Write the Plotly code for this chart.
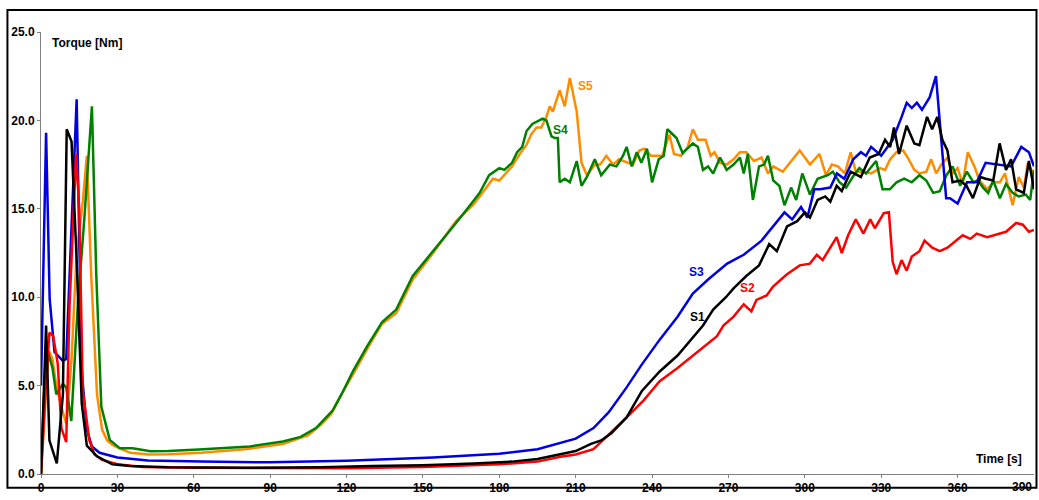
import plotly.graph_objects as go

# Torque traces, (time [s], torque [Nm]) pairs per sample
s1 = [(0, 0), (2, 8.4), (3.3, 1.9), (6.2, 0.6), (8.6, 4.5), (10.1, 19.5), (12, 18.8), (14, 12.1),
      (16, 4.0), (18, 1.6), (22, 1.0), (28, 0.55), (35, 0.45), (50, 0.38), (80, 0.35), (110, 0.38),
      (130, 0.45), (150, 0.5), (170, 0.6), (185, 0.7), (195, 0.85), (203, 1.1), (210, 1.3),
      (216, 1.7), (220, 1.9), (224, 2.3), (230, 3.2), (236, 4.7), (243, 5.8), (250, 6.7), (256, 7.7),
      (260, 8.4), (264, 9.3), (269, 10.0), (272, 10.5), (277, 11.2), (282, 11.8), (286, 13.0),
      (289, 12.6), (293, 14.0), (297, 14.3), (300, 14.8), (302, 14.5), (305, 15.5), (308, 15.7),
      (310, 15.4), (312.5, 16.3), (314.5, 16.0), (318, 17.1), (322, 16.8), (325.5, 17.9),
      (329, 18.1), (331.5, 18.9), (333.5, 18.5), (335, 19.6), (337, 18.1), (340, 19.7), (343, 18.7),
      (345, 18.6), (348, 20.2), (350, 19.5), (352, 20.2), (354, 18.9), (356, 18.3), (358, 16.5),
      (361, 16.6), (363.5, 16.3), (366, 15.6), (369, 16.8), (371, 16.7), (374, 16.6), (376.5, 18.7),
      (379, 17.2), (381, 17.8), (383, 16.1), (386, 15.9), (388, 17.7), (390, 16.1)]

s2 = [(0, 0), (1.5, 4.0), (3.3, 8.0), (4.8, 7.8), (6.6, 6.2), (8, 2.6), (9.9, 1.8), (11.2, 9.5),
      (13.8, 18.1), (15, 15.0), (16.4, 4.7), (19, 1.9), (21, 1.1), (24, 0.8), (30, 0.55), (40, 0.4),
      (60, 0.35), (90, 0.32), (120, 0.33), (150, 0.4), (180, 0.55), (195, 0.7), (204, 0.98),
      (210, 1.1), (217, 1.4), (220.6, 1.9), (225, 2.5), (230, 3.2), (236.6, 4.15), (243, 5.25),
      (250, 6.0), (256, 6.7), (261.5, 7.3), (265.5, 7.8), (268, 8.4), (272, 8.9), (276, 9.6),
      (279, 9.2), (281, 9.85), (285, 10.1), (287.5, 10.6), (293, 11.3), (298, 11.8), (302, 11.9),
      (304.7, 12.4), (307, 12.1), (312.5, 13.4), (314.5, 12.5), (317, 13.5), (320, 14.4),
      (323, 13.6), (325.7, 14.4), (327.5, 13.9), (331, 14.75), (333, 14.8), (334.5, 12.0),
      (336, 11.3), (338, 12.1), (340, 11.5), (342, 12.3), (345, 12.6), (347, 13.2), (350, 12.8),
      (353, 12.6), (356, 12.8), (358.6, 13.1), (362, 13.5), (365, 13.3), (367.5, 13.6),
      (371.6, 13.4), (374, 13.5), (379, 13.7), (383, 14.2), (385.6, 14.1), (388, 13.7), (390, 13.8)]

s3 = [(0, 5.0), (2, 19.3), (3.4, 9.9), (5.3, 6.9), (8.6, 6.4), (9.9, 6.5), (14, 21.2), (16, 5.8),
      (18, 2.5), (20, 1.56), (23, 1.2), (30, 0.93), (42, 0.77), (63, 0.7), (90, 0.66), (120, 0.75),
      (154, 0.93), (180, 1.15), (195, 1.4), (204, 1.77), (210, 2.0), (217, 2.6), (223, 3.5),
      (230, 4.9), (236, 6.2), (243, 7.6), (250, 8.9), (256, 10.2), (262, 11.0), (269.5, 11.9),
      (276, 12.4), (283, 13.2), (288, 14.1), (292, 14.8), (295, 14.4), (298.5, 15.1), (301, 14.5),
      (303.7, 16.1), (306, 16.1), (310, 16.2), (312.6, 17.0), (315.5, 16.7), (319, 17.8),
      (322, 18.2), (324, 18.0), (326, 18.5), (330, 18.0), (334.5, 18.9), (338, 20.2), (340, 21.0),
      (342, 20.7), (344, 21.0), (346, 20.6), (349, 21.3), (351.5, 22.5), (355.5, 15.6),
      (357, 15.6), (360, 15.3), (363.7, 16.5), (367.5, 16.5), (371, 17.6), (377, 17.5),
      (381, 17.4), (385, 18.5), (388, 18.2), (390, 17.4)]

s4 = [(0, 0), (2, 7.3), (4.5, 6.0), (6, 4.5), (8.6, 5.1), (9.9, 4.9), (11.9, 3.0), (14.5, 9.7),
      (17.1, 14.6), (20, 20.8), (21.7, 11.3), (23.7, 3.8), (27, 1.93), (31, 1.45), (36, 1.45),
      (43, 1.29), (50, 1.3), (62, 1.38), (82, 1.56), (95, 1.84), (102, 2.1), (108, 2.6),
      (114.6, 3.6), (118, 4.5), (122.5, 5.8), (128, 7.2), (134, 8.6), (139.5, 9.3), (146, 11.2),
      (154, 12.6), (163, 14.2), (169.6, 15.4), (172.3, 15.9), (176, 16.9), (180, 17.3),
      (182, 17.2), (185, 17.6), (187, 18.2), (189, 18.5), (190.7, 19.4), (193, 19.8), (197, 20.1),
      (198.5, 20.0), (200.5, 19.1), (201.8, 19.0), (203, 19.0), (203.7, 16.5), (205.7, 16.7),
      (207.7, 16.5), (210.4, 17.7), (212.3, 16.3), (214.4, 16.8), (217.5, 17.8), (220, 16.9),
      (223.4, 17.5), (226, 17.4), (228.6, 18.0), (230, 18.5), (232, 17.4), (234, 18.2),
      (235.8, 17.6), (238, 18.4), (240, 16.5), (242.6, 17.8), (244.6, 18.0), (246, 19.5),
      (249.6, 19.0), (252, 18.15), (256, 18.7), (258, 18.5), (260, 17.2), (262, 17.4), (264, 17.0),
      (266.7, 17.9), (269.3, 17.2), (272, 17.5), (274.5, 17.9), (276, 17.0), (277.6, 18.1),
      (279.6, 15.5), (282, 17.4), (284, 17.5), (285.5, 18.0), (287.6, 16.6), (290, 16.3),
      (292, 15.2), (294.6, 16.2), (296.6, 15.5), (299, 17.0), (302, 15.8), (305, 16.7),
      (309, 16.9), (311, 17.1), (313.6, 16.5), (316.2, 16.2), (318.8, 16.8), (321.4, 17.3),
      (324, 17.0), (328, 17.7), (330.5, 16.1), (333.4, 16.1), (336, 16.5), (339, 16.7),
      (342, 16.5), (345, 16.9), (347.7, 16.6), (350.4, 15.9), (353, 16.0), (355.6, 16.9),
      (358, 17.4), (361, 16.3), (363.6, 17.1), (366.2, 16.5), (368, 16.6), (370, 16.2),
      (372, 15.9), (374, 16.6), (376.6, 15.6), (379, 16.4), (381.6, 15.9), (384, 15.7),
      (386.8, 15.8), (388.5, 15.5), (390, 17.2)]

s5 = [(0, 0), (1.5, 3.5), (3, 7.0), (4.5, 6.5), (6, 5.0), (8, 3.8), (10, 2.8), (12, 6.5),
      (14, 12.5), (16.4, 15.4), (18, 18.0), (19.7, 11.3), (22, 4.5), (24, 2.5), (26, 1.9),
      (28, 1.66), (30, 1.5), (35, 1.2), (42.6, 1.1), (50, 1.12), (63, 1.2), (80, 1.4), (95, 1.7),
      (105, 2.2), (110, 2.8), (114, 3.4), (118, 4.5), (124, 6.0), (129, 7.3), (134, 8.5),
      (139.5, 9.1), (146, 11.0), (154, 12.5), (163, 14.3), (169.6, 15.2), (172.3, 15.7),
      (177.5, 16.7), (180, 16.6), (182, 16.9), (185, 17.4), (188, 18.1), (190.6, 18.6),
      (192.5, 19.2), (194.6, 19.6), (196.5, 19.6), (198.5, 20.2), (199.8, 20.8), (201, 20.5),
      (203.7, 21.7), (205.7, 20.8), (207.7, 22.4), (210.4, 20.5), (212.3, 17.6), (214.4, 16.9),
      (217.6, 17.5), (219.6, 17.5), (222, 18.0), (224.7, 17.5), (227, 17.8), (230.6, 17.6),
      (232.5, 17.5), (235, 18.3), (237, 18.4), (239.6, 18.0), (242, 18.0), (244, 18.0),
      (246.8, 19.2), (248.6, 18.1), (251.4, 18.0), (254, 18.5), (256, 19.5), (258, 18.9),
      (261, 18.9), (263, 18.0), (264.5, 18.2), (266.7, 17.6), (269.3, 17.5), (272, 17.8),
      (274.5, 18.2), (277, 18.2), (280, 17.7), (283, 17.9), (285.5, 17.0), (287.6, 17.4),
      (291.3, 17.1), (294.6, 17.7), (298, 18.3), (302, 17.5), (305.7, 18.1), (308.3, 16.9),
      (310.6, 17.5), (313, 17.4), (315.7, 17.0), (318, 18.2), (320, 17.1), (323.4, 17.1),
      (326, 17.0), (329.6, 17.3), (331.5, 17.2), (333.5, 17.8), (336, 18.2), (338.6, 18.3),
      (340.4, 17.9), (343, 17.2), (345, 17.0), (347.7, 17.1), (349.6, 17.8), (351.6, 17.0),
      (353.6, 17.5), (356, 17.9), (358, 17.0), (360, 17.3), (362, 16.4), (364, 18.2),
      (366.6, 17.4), (368.6, 16.6), (371.6, 16.1), (374, 16.5), (376.6, 16.5), (378.6, 17.0),
      (381.6, 15.2), (384, 16.8), (386, 16.2), (387.6, 17.6), (390, 16.9)]

x_ticks = list(range(0, 391, 30))
y_ticks = [0, 5, 10, 15, 20, 25]
y_tick_text = ["0.0", "5.0", "10.0", "15.0", "20.0", "25.0"]

series = [
    ("S5", s5, "#ff8c00", (214, 21.97)),
    ("S4", s4, "#008000", (204, 19.46)),
    ("S3", s3, "#0000e0", (257.5, 11.4)),
    ("S2", s2, "#ff0000", (277.5, 10.5)),
    ("S1", s1, "#000000", (258, 8.88)),
]

FONT = "Liberation Sans, Arial, sans-serif"
BOLD12 = dict(family=FONT, size=12, color="#000", weight="bold")

fig = go.Figure()
for name, pts, color, (lx, ly) in series:
    t, v = zip(*pts)
    fig.add_trace(go.Scatter(x=list(t), y=list(v), mode="lines", name=name,
                             line=dict(color=color, width=2.5), showlegend=False))
    fig.add_annotation(x=lx, y=ly, text=name, showarrow=False,
                       font=dict(family=FONT, size=12, color=color, weight="bold"))

fig.add_annotation(xref="paper", yref="paper", x=0.009, y=0.975, xanchor="left", yanchor="middle",
                   text="Torque [Nm]", showarrow=False, font=BOLD12)
fig.add_annotation(xref="paper", yref="paper", x=0.99, y=0.033, xanchor="right", yanchor="middle",
                   text="Time [s]", showarrow=False, font=BOLD12)

# last x tick label, kept inside the frame at the right edge
fig.add_annotation(x=x_ticks[-1], xref="x", yref="paper", y=0, yshift=-4, yanchor="top",
                   xanchor="right", xshift=0, text=str(x_ticks[-1]), showarrow=False,
                   font=BOLD12)

# outer frame
fig.add_shape(type="rect", xref="paper", yref="paper", x0=-0.0338, x1=1.0025, y0=-0.031, y1=1.0497,
              line=dict(color="#000", width=2), layer="above")

fig.update_layout(
    width=1039, height=500,
    margin=dict(l=41, r=5, t=32, b=15),
    paper_bgcolor="white", plot_bgcolor="white",
    font=dict(family=FONT, size=12, color="#000"),
    xaxis=dict(range=[0, 390], tickvals=x_ticks[:-1], showgrid=False, zeroline=False,
               showline=True, linecolor="#808080", linewidth=1,
               ticks="outside", ticklen=3, tickcolor="#808080", tickfont=BOLD12),
    yaxis=dict(range=[0, 25], tickvals=y_ticks, ticktext=y_tick_text, showgrid=False,
               zeroline=False, showline=True, linecolor="#808080", linewidth=1,
               ticks="outside", ticklen=3, tickcolor="#808080", tickfont=BOLD12),
)

fig.write_html("out.html")
